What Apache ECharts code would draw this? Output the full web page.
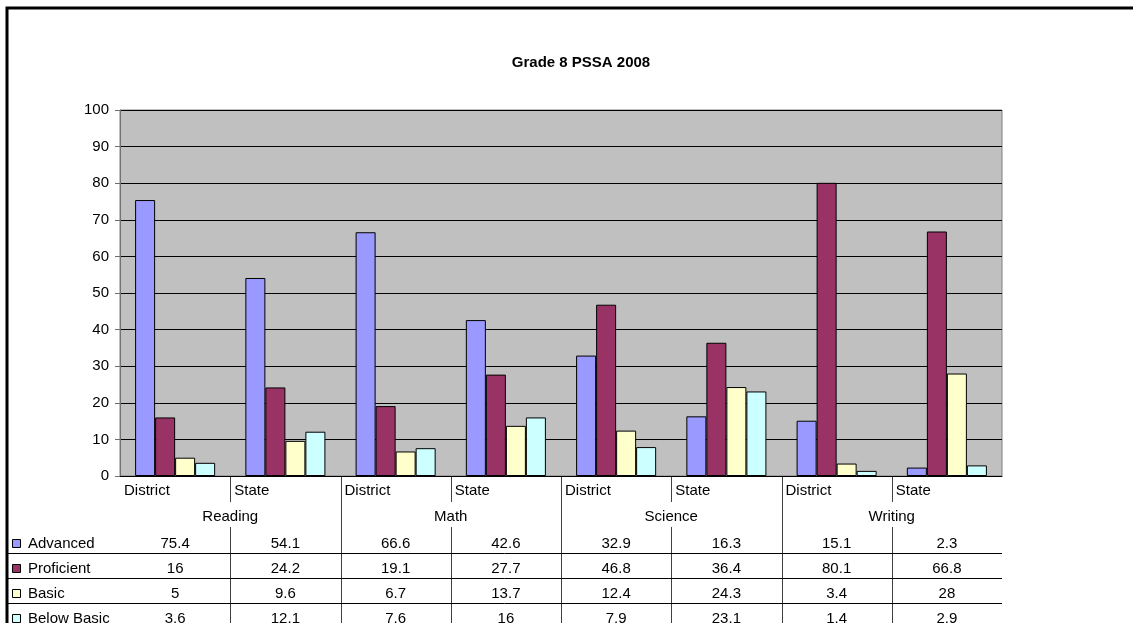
<!DOCTYPE html>
<html>
<head>
<meta charset="utf-8">
<script src="https://cdn.jsdelivr.net/npm/echarts@6/dist/echarts.min.js"></script>
<style>html,body{margin:0;padding:0;background:#fff;}#c{width:1133px;height:623px;}</style>
</head>
<body>
<div id="c"></div>
<script>
const title = 'Grade 8 PSSA 2008';
const subjects = ['Reading', 'Math', 'Science', 'Writing'];
const levels = ['District', 'State'];
const seriesNames = ['Advanced', 'Proficient', 'Basic', 'Below Basic'];
const advanced = [75.4, 54.1, 66.6, 42.6, 32.9, 16.3, 15.1, 2.3];
const proficient = [16, 24.2, 19.1, 27.7, 46.8, 36.4, 80.1, 66.8];
const basic = [5, 9.6, 6.7, 13.7, 12.4, 24.3, 3.4, 28];
const belowBasic = [3.6, 12.1, 7.6, 16, 7.9, 23.1, 1.4, 2.9];
const colors = ['#9999FF', '#993366', '#FFFFCC', '#CCFFFF'];

const seriesData = [advanced, proficient, basic, belowBasic];
const categories = [];
subjects.forEach(s => levels.forEach(l => categories.push(s + '|' + l)));

const FONT = 'Liberation Sans, Arial, sans-serif';
const chart = echarts.init(document.getElementById('c'), null, {renderer: 'canvas'});

chart.setOption({
  animation: false,
  backgroundColor: '#ffffff',
  title: {
    text: title, left: 576, top: 50, textAlign: 'center',
    textStyle: {fontFamily: FONT, fontSize: 15, fontWeight: 'bold', color: '#000'}
  },
  grid: {left: 120, right: 131, top: 110, bottom: 147, show: true, backgroundColor: '#C0C0C0', borderColor: '#808080', borderWidth: 1},
  xAxis: {
    type: 'category', data: categories,
    axisLine: {show: true, lineStyle: {color: '#000', width: 1}},
    axisTick: {show: false},
    axisLabel: {show: false},
    splitLine: {show: false}
  },
  yAxis: {
    type: 'value', min: 0, max: 100, interval: 10,
    axisLine: {show: true, lineStyle: {color: '#707070', width: 1}},
    axisTick: {show: true, length: 5, lineStyle: {color: '#707070'}},
    axisLabel: {fontFamily: FONT, fontSize: 15, color: '#000', margin: 11},
    splitLine: {show: true, lineStyle: {color: '#000', width: 1}}
  },
  series: seriesNames.map((n, i) => ({
    name: n, type: 'bar', data: seriesData[i],
    barGap: '0%', barCategoryGap: '27.4%',
    itemStyle: {color: colors[i], borderColor: '#000', borderWidth: 1}
  }))
});

// Data table drawn below the axis, positioned through the axis scales
const cx = categories.map(c => chart.convertToPixel({xAxisIndex: 0}, c));
const band = cx[1] - cx[0];
const y0 = chart.convertToPixel({yAxisIndex: 0}, 0);
const rightEdge = cx[cx.length - 1] + band / 2;
const bottom = 640;
const g = [];
const txt = (x, y, t, align) => ({
  type: 'text', x: x, y: y, silent: true,
  style: {text: t, fontFamily: FONT, fontSize: 15, fill: '#000', align: align || 'center', verticalAlign: 'middle'}
});
const line = (x1, y1, x2, y2, c) => ({
  type: 'line', silent: true,
  shape: {x1: x1, y1: y1, x2: x2, y2: y2},
  style: {stroke: c || '#000', lineWidth: 1}
});

// vertical lines
for (let i = 1; i < categories.length; i++) {
  const x = Math.round(cx[i] - band / 2) + 0.5;
  if (i % levels.length === 0) {
    g.push(line(x, y0, x, bottom, '#404040'));
  } else {
    g.push(line(x, y0, x, y0 + 26, '#404040'));
    g.push(line(x, y0 + 51, x, bottom, '#404040'));
  }
}
// level and subject labels
categories.forEach((c, i) => {
  g.push(txt(cx[i] - band / 2 + 4, y0 + 15, levels[i % levels.length], 'left'));
});
subjects.forEach((s, j) => {
  const a = cx[j * levels.length], b = cx[j * levels.length + levels.length - 1];
  g.push(txt((a + b) / 2, y0 + 41, s));
});
// horizontal row lines
const rowTop = y0 + 52;
const rowH = 25;
for (let r = 1; r < seriesNames.length; r++) {
  const y = Math.round(rowTop + r * rowH) + 0.5;
  g.push(line(7, y, rightEdge, y, '#000'));
}
// rows
seriesNames.forEach((n, r) => {
  const yc = rowTop + r * rowH + rowH / 2 + 3;
  g.push({
    type: 'rect', silent: true,
    shape: {x: 12.5, y: Math.round(yc - 5) + 0.5, width: 8, height: 8},
    style: {fill: colors[r], stroke: '#000', lineWidth: 1}
  });
  g.push(txt(28, yc, n, 'left'));
  seriesData[r].forEach((v, i) => g.push(txt(cx[i], yc, String(v))));
});
// outer frame
g.push({
  type: 'rect', silent: true,
  shape: {x: 7, y: 8, width: 1200, height: 800},
  style: {fill: 'none', stroke: '#000', lineWidth: 3}
});

chart.setOption({graphic: {elements: g}});
</script>
</body>
</html>
